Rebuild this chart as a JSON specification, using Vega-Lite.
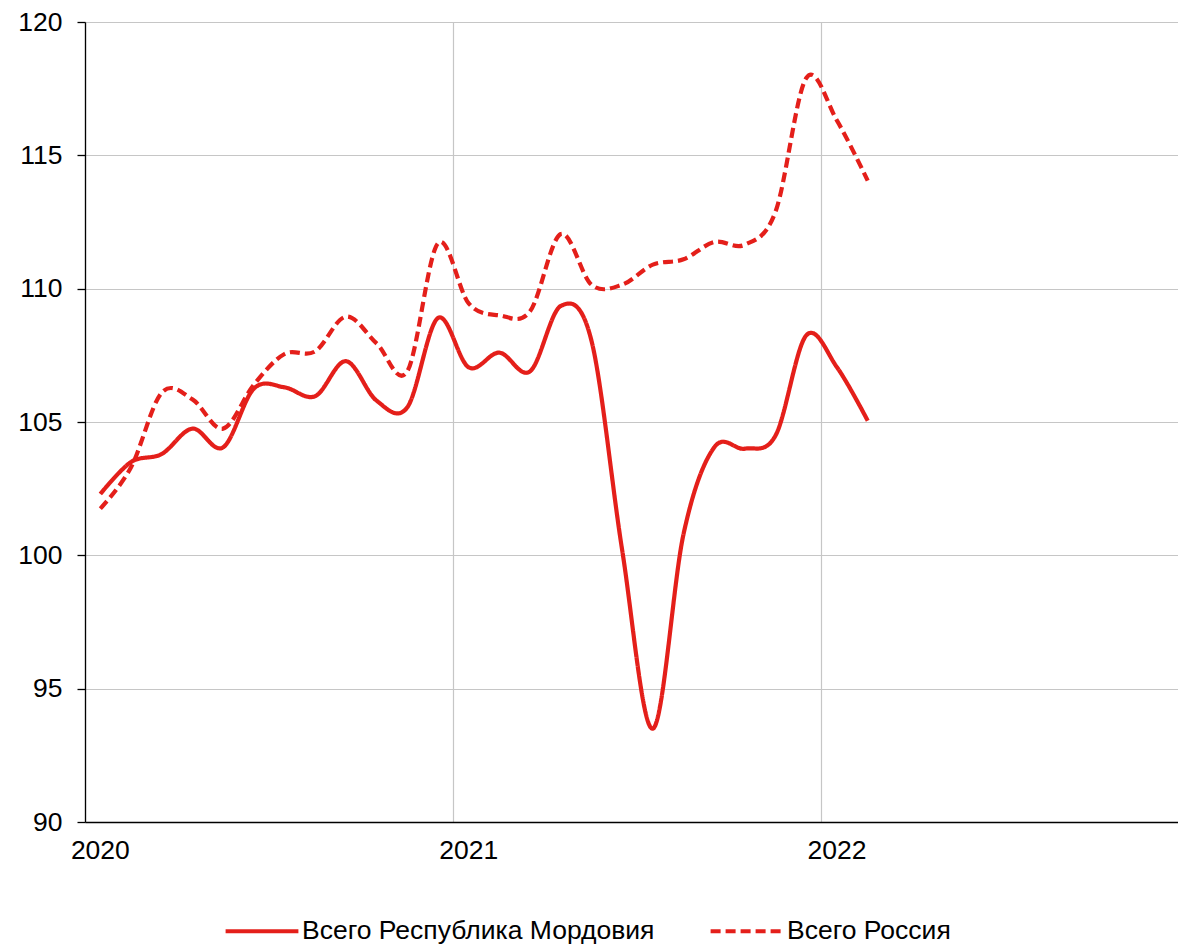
{
  "$schema": "https://vega.github.io/schema/vega-lite/v6.json",
  "width": 1093,
  "height": 800,
  "autosize": {"type": "none"},
  "padding": {"left": 85, "top": 22, "right": 0, "bottom": 125},
  "background": "white",
  "config": {"font": "Liberation Sans", "view": {"stroke": null}},
  "data": {"values": [
    {"month": "2020-01", "series": "Всего Республика Мордовия", "value": 102.3},
    {"month": "2020-02", "series": "Всего Республика Мордовия", "value": 103.5},
    {"month": "2020-03", "series": "Всего Республика Мордовия", "value": 103.8},
    {"month": "2020-04", "series": "Всего Республика Мордовия", "value": 104.75},
    {"month": "2020-05", "series": "Всего Республика Мордовия", "value": 104.05},
    {"month": "2020-06", "series": "Всего Республика Мордовия", "value": 106.25},
    {"month": "2020-07", "series": "Всего Республика Мордовия", "value": 106.3},
    {"month": "2020-08", "series": "Всего Республика Мордовия", "value": 105.97},
    {"month": "2020-09", "series": "Всего Республика Мордовия", "value": 107.28},
    {"month": "2020-10", "series": "Всего Республика Мордовия", "value": 105.8},
    {"month": "2020-11", "series": "Всего Республика Мордовия", "value": 105.55},
    {"month": "2020-12", "series": "Всего Республика Мордовия", "value": 108.9},
    {"month": "2021-01", "series": "Всего Республика Мордовия", "value": 107.05},
    {"month": "2021-02", "series": "Всего Республика Мордовия", "value": 107.6},
    {"month": "2021-03", "series": "Всего Республика Мордовия", "value": 106.9},
    {"month": "2021-04", "series": "Всего Республика Мордовия", "value": 109.35},
    {"month": "2021-05", "series": "Всего Республика Мордовия", "value": 108.05},
    {"month": "2021-06", "series": "Всего Республика Мордовия", "value": 100.2},
    {"month": "2021-07", "series": "Всего Республика Мордовия", "value": 93.5},
    {"month": "2021-08", "series": "Всего Республика Мордовия", "value": 100.8},
    {"month": "2021-09", "series": "Всего Республика Мордовия", "value": 104.05},
    {"month": "2021-10", "series": "Всего Республика Мордовия", "value": 104.0},
    {"month": "2021-11", "series": "Всего Республика Мордовия", "value": 104.5},
    {"month": "2021-12", "series": "Всего Республика Мордовия", "value": 108.25},
    {"month": "2022-01", "series": "Всего Республика Мордовия", "value": 107.05},
    {"month": "2022-02", "series": "Всего Республика Мордовия", "value": 105.05},
    {"month": "2020-01", "series": "Всего Россия", "value": 101.75},
    {"month": "2020-02", "series": "Всего Россия", "value": 103.3},
    {"month": "2020-03", "series": "Всего Россия", "value": 106.1},
    {"month": "2020-04", "series": "Всего Россия", "value": 105.85},
    {"month": "2020-05", "series": "Всего Россия", "value": 104.75},
    {"month": "2020-06", "series": "Всего Россия", "value": 106.4},
    {"month": "2020-07", "series": "Всего Россия", "value": 107.55},
    {"month": "2020-08", "series": "Всего Россия", "value": 107.65},
    {"month": "2020-09", "series": "Всего Россия", "value": 108.95},
    {"month": "2020-10", "series": "Всего Россия", "value": 107.95},
    {"month": "2020-11", "series": "Всего Россия", "value": 106.9},
    {"month": "2020-12", "series": "Всего Россия", "value": 111.7},
    {"month": "2021-01", "series": "Всего Россия", "value": 109.45},
    {"month": "2021-02", "series": "Всего Россия", "value": 109.0},
    {"month": "2021-03", "series": "Всего Россия", "value": 109.15},
    {"month": "2021-04", "series": "Всего Россия", "value": 112.05},
    {"month": "2021-05", "series": "Всего Россия", "value": 110.15},
    {"month": "2021-06", "series": "Всего Россия", "value": 110.15},
    {"month": "2021-07", "series": "Всего Россия", "value": 110.9},
    {"month": "2021-08", "series": "Всего Россия", "value": 111.1},
    {"month": "2021-09", "series": "Всего Россия", "value": 111.75},
    {"month": "2021-10", "series": "Всего Россия", "value": 111.65},
    {"month": "2021-11", "series": "Всего Россия", "value": 112.9},
    {"month": "2021-12", "series": "Всего Россия", "value": 117.9},
    {"month": "2022-01", "series": "Всего Россия", "value": 116.3},
    {"month": "2022-02", "series": "Всего Россия", "value": 114.05}
  ]},
  "mark": {"type": "line", "interpolate": "cardinal", "tension": 0, "strokeWidth": 4.2, "color": "#e41f1a", "strokeCap": "butt"},
  "encoding": {
    "x": {
      "field": "month", "type": "ordinal", "bandPosition": 0.5,
      "scale": {"type": "band", "paddingInner": 0, "paddingOuter": 0, "range": [0, 1105],
        "domain": ["2020-01","2020-02","2020-03","2020-04","2020-05","2020-06","2020-07","2020-08","2020-09","2020-10","2020-11","2020-12",
                   "2021-01","2021-02","2021-03","2021-04","2021-05","2021-06","2021-07","2021-08","2021-09","2021-10","2021-11","2021-12",
                   "2022-01","2022-02","2022-03","2022-04","2022-05","2022-06","2022-07","2022-08","2022-09","2022-10","2022-11","2022-12"]},
      "axis": {"title": null, "values": ["2020-01", "2021-01", "2022-01"], "bandPosition": 0, "labelOffset": 0,
        "labelExpr": "substring(datum.value, 0, 4)", "ticks": false, "tickSize": 0, "labelPadding": 15, "labelFontSize": 26.5,
        "labelColor": "#000000", "labelAngle": 0, "grid": true, "gridColor": "#c6c6c6", "gridWidth": 1.2,
        "domainColor": "#000000", "domainWidth": 1.3}
    },
    "y": {
      "field": "value", "type": "quantitative",
      "scale": {"domain": [90, 120], "zero": false, "nice": false},
      "axis": {"title": null, "values": [90, 95, 100, 105, 110, 115, 120], "tickSize": 8, "tickColor": "#000000", "tickWidth": 1.3,
        "domainColor": "#000000", "domainWidth": 1.3, "labelFontSize": 26.5, "labelColor": "#000000", "labelPadding": 15,
        "grid": true, "gridColor": "#c6c6c6", "gridWidth": 1.2}
    },
    "strokeDash": {
      "field": "series", "type": "nominal",
      "scale": {"domain": ["Всего Республика Мордовия", "Всего Россия"], "range": [[1, 0], [10, 5]]},
      "legend": {"title": null, "orient": "none", "legendX": 138, "legendY": 870, "direction": "horizontal",
        "symbolType": "stroke", "symbolSize": 5300, "symbolStrokeWidth": 4.2, "symbolStrokeColor": "#e41f1a",
        "labelFontSize": 26.5, "labelColor": "#000000", "labelOffset": 1, "columnPadding": 47, "labelLimit": 0}
    }
  }
}
